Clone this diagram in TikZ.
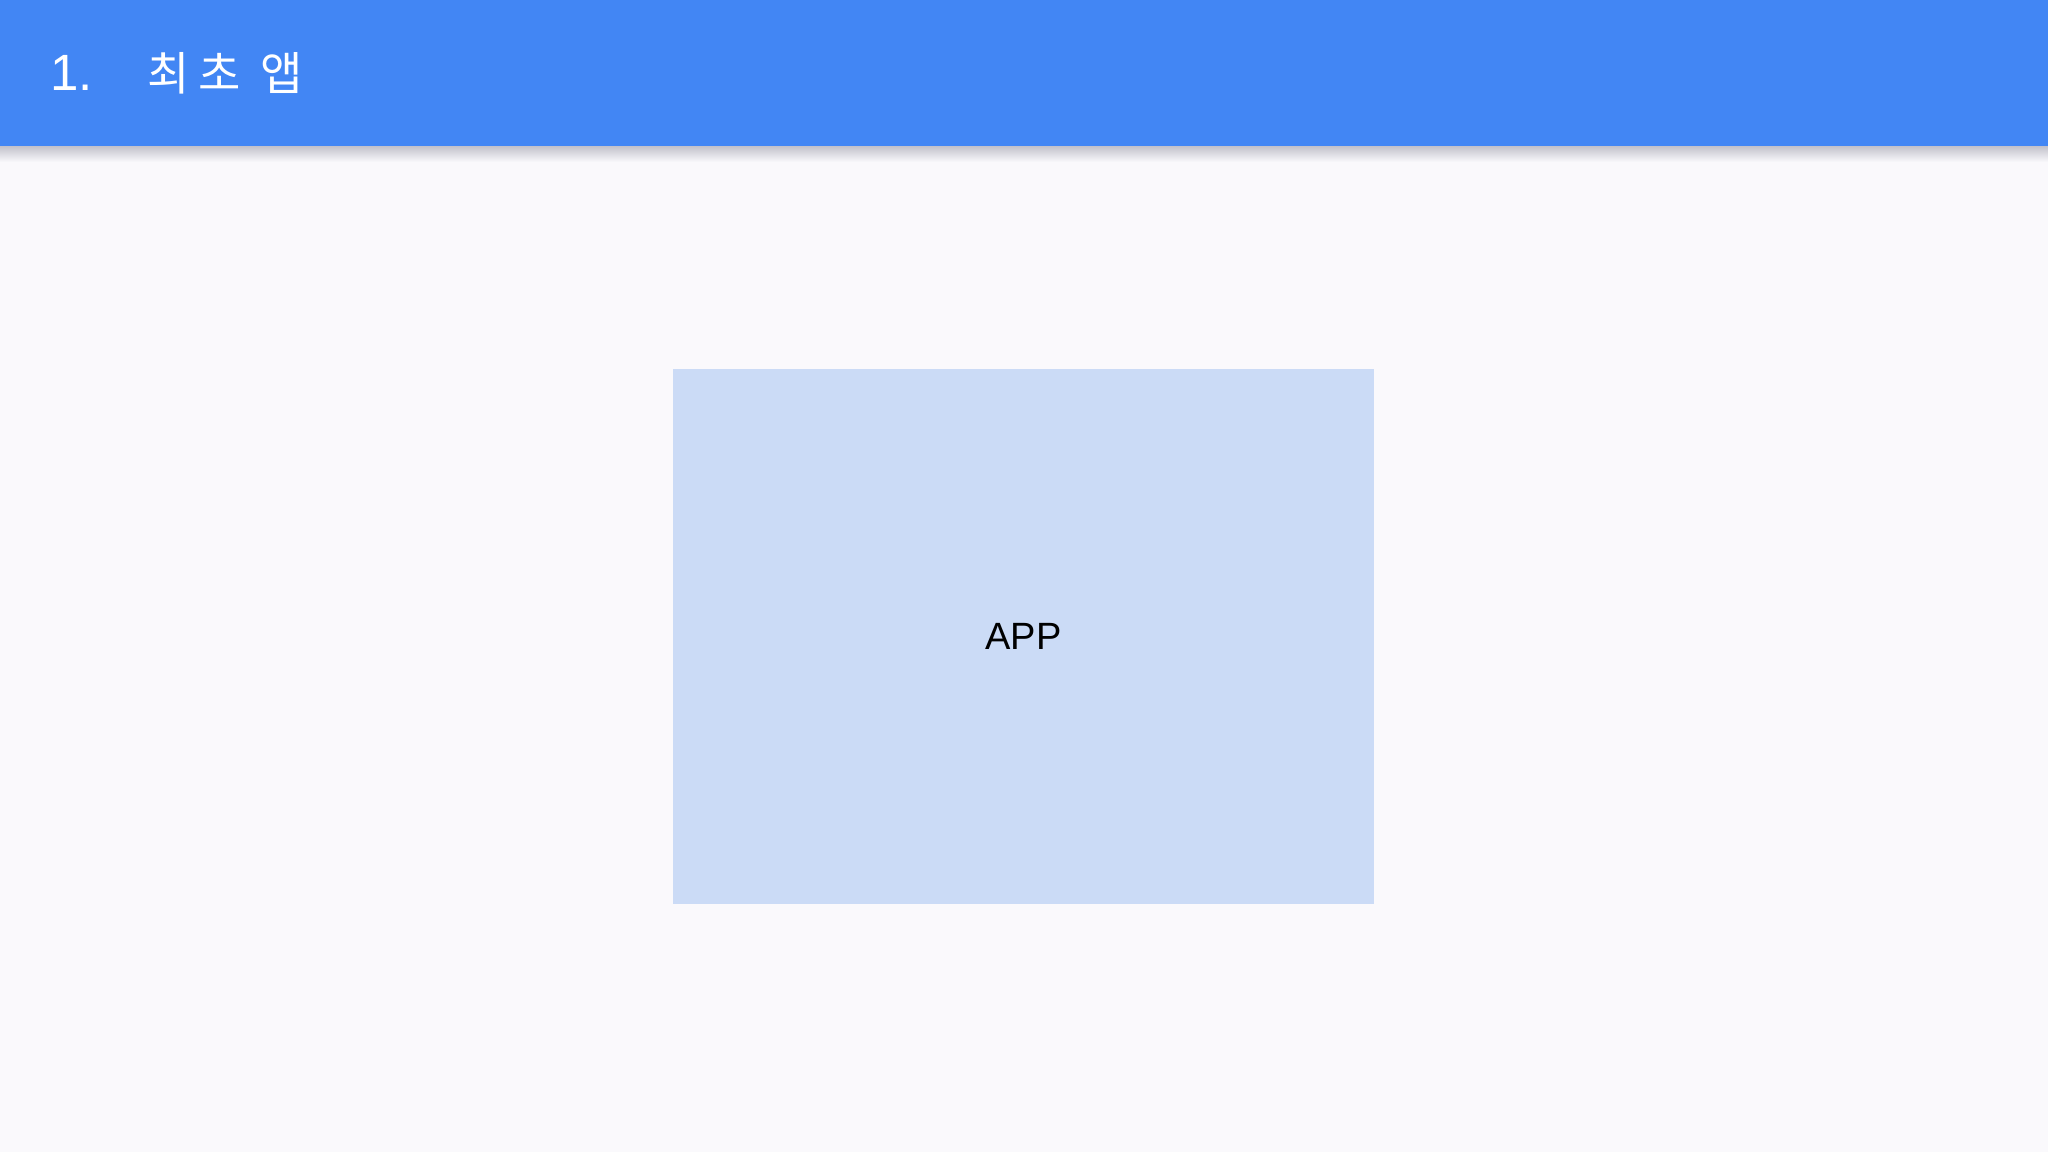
\documentclass[tikz,border=0pt]{standalone}
\usepackage{fontspec}
\setmainfont{Liberation Sans}
\newfontfamily\krfont{Noto Sans CJK KR}
\definecolor{hdr}{RGB}{66,134,244}
\definecolor{bg}{RGB}{250,249,252}
\definecolor{boxc}{RGB}{203,219,246}
\definecolor{shd}{RGB}{190,190,200}
\tikzset{
  titletext/.style={text=white, inner sep=0pt, anchor=base west},
  appbox/.style={fill=boxc, draw=none, minimum width=701pt, minimum height=535pt, inner sep=0pt, font=\fontsize{38}{44}\selectfont, text=black}
}
\begin{document}
\begin{tikzpicture}[x=1pt,y=-1pt]
\useasboundingbox (0,0) rectangle (2048,1152);
\fill[bg] (0,0) rectangle (2048,1152);
\shade[top color=shd, bottom color=bg] (0,145) rectangle (2048,162);
\fill[hdr] (0,0) rectangle (2048,146);
\node[titletext, font=\fontsize{51}{60}\selectfont] (num) at (50,90) {1.};
\node[titletext, font=\krfont\fontsize{46}{56}\selectfont] (title) at (147,90) {최\hspace{9pt}초\hspace{9pt} 앱};
\node[appbox] (app) at (1023.5,636.5) {APP};
\end{tikzpicture}
\end{document}
